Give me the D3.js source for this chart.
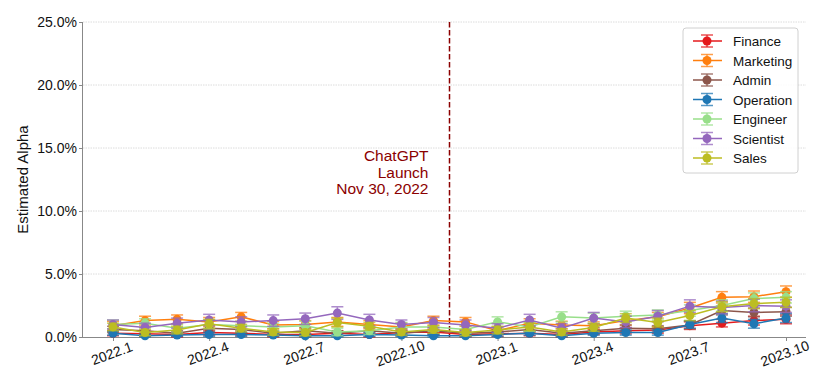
<!DOCTYPE html>
<html>
<head>
<meta charset="utf-8">
<script src="https://cdn.jsdelivr.net/npm/d3@7"></script>
<style>
  body { margin: 0; background: #fff; }
  text { font-family: "Liberation Sans", Arial, sans-serif; }
</style>
</head>
<body>
<div id="chart"></div>
<script>
// months Jan 2022 .. Oct 2023
var months = ["2022.1","2022.2","2022.3","2022.4","2022.5","2022.6","2022.7","2022.8","2022.9","2022.10","2022.11","2022.12",
              "2023.1","2023.2","2023.3","2023.4","2023.5","2023.6","2023.7","2023.8","2023.9","2023.10"];
var tickLabels = ["2022.1","2022.4","2022.7","2022.10","2023.1","2023.4","2023.7","2023.10"];
var yTicks = [0, 5, 10, 15, 20, 25];

var seriesNames = ["Finance", "Marketing", "Admin", "Operation", "Engineer", "Scientist", "Sales"];
var seriesColors = ["#e41a1c", "#ff7f0e", "#8c564b", "#1f77b4", "#98df8a", "#9467bd", "#bcbd22"];

// estimated alpha (%)
var finance   = [0.3, 0.25, 0.2, 0.35, 0.3, 0.2, 0.2, 0.3, 0.2, 0.35, 0.4, 0.2, 0.25, 0.3, 0.2, 0.4, 0.5, 0.55, 0.9, 1.1, 1.3, 1.4];
var marketing = [0.9, 1.3, 1.4, 1.2, 1.6, 0.95, 1.0, 1.2, 1.0, 0.8, 1.3, 1.2, 0.5, 1.1, 0.95, 0.9, 1.3, 1.6, 2.3, 3.15, 3.2, 3.6];
var admin     = [0.6, 0.5, 0.3, 0.7, 0.6, 0.3, 0.5, 0.3, 0.5, 0.3, 0.5, 0.3, 0.4, 0.6, 0.3, 0.5, 0.7, 0.65, 0.95, 2.1, 1.95, 2.0];
var operation = [0.3, 0.1, 0.15, 0.2, 0.2, 0.15, 0.1, 0.1, 0.2, 0.15, 0.1, 0.1, 0.2, 0.3, 0.1, 0.3, 0.35, 0.35, 1.0, 1.5, 1.05, 1.5];
var engineer  = [1.0, 1.1, 0.7, 1.0, 0.9, 0.8, 0.9, 0.4, 0.5, 0.8, 0.8, 0.6, 1.2, 0.8, 1.6, 1.5, 1.65, 1.75, 2.1, 2.5, 3.05, 3.15];
var scientist = [1.0, 0.75, 1.1, 1.35, 1.2, 1.3, 1.45, 1.9, 1.35, 1.0, 1.15, 0.95, 0.7, 1.35, 0.7, 1.5, 1.2, 1.65, 2.45, 2.35, 2.5, 2.45];
var sales     = [0.8, 0.35, 0.55, 1.05, 0.7, 0.4, 0.35, 1.15, 0.85, 0.4, 0.6, 0.35, 0.55, 0.8, 0.4, 0.75, 1.5, 1.15, 1.7, 2.4, 2.65, 2.75];

// half width of error bars (%)
var financeErr   = [0.2, 0.2, 0.2, 0.2, 0.2, 0.2, 0.2, 0.2, 0.2, 0.2, 0.2, 0.2, 0.2, 0.2, 0.2, 0.2, 0.25, 0.25, 0.3, 0.3, 0.35, 0.35];
var marketingErr = [0.35, 0.35, 0.35, 0.35, 0.35, 0.3, 0.3, 0.35, 0.3, 0.3, 0.35, 0.35, 0.3, 0.35, 0.3, 0.3, 0.35, 0.35, 0.45, 0.45, 0.45, 0.45];
var adminErr     = [0.25, 0.25, 0.2, 0.25, 0.25, 0.2, 0.25, 0.2, 0.25, 0.2, 0.25, 0.2, 0.2, 0.25, 0.2, 0.25, 0.25, 0.25, 0.3, 0.35, 0.35, 0.35];
var operationErr = [0.15, 0.1, 0.1, 0.15, 0.15, 0.1, 0.1, 0.1, 0.15, 0.1, 0.1, 0.1, 0.15, 0.15, 0.1, 0.15, 0.2, 0.2, 0.3, 0.35, 0.35, 0.35];
var engineerErr  = [0.35, 0.35, 0.3, 0.35, 0.35, 0.3, 0.35, 0.3, 0.3, 0.35, 0.35, 0.3, 0.4, 0.35, 0.4, 0.4, 0.4, 0.4, 0.45, 0.45, 0.45, 0.45];
var scientistErr = [0.35, 0.35, 0.4, 0.45, 0.4, 0.45, 0.45, 0.5, 0.45, 0.35, 0.4, 0.4, 0.35, 0.45, 0.35, 0.45, 0.45, 0.45, 0.5, 0.5, 0.5, 0.5];
var salesErr     = [0.3, 0.25, 0.3, 0.35, 0.3, 0.25, 0.25, 0.35, 0.3, 0.25, 0.3, 0.25, 0.3, 0.3, 0.25, 0.3, 0.35, 0.35, 0.4, 0.4, 0.4, 0.4];

var seriesValues = [finance, marketing, admin, operation, engineer, scientist, sales];
var seriesErrors = [financeErr, marketingErr, adminErr, operationErr, engineerErr, scientistErr, salesErr];

var launchIndex = 10.5; // Nov 30, 2022, between 2022.11 and 2022.12
var launchText = ["ChatGPT", "Launch", "Nov 30, 2022"];

var svgWidth = 830, svgHeight = 388;
var plotLeft = 83, plotRight = 806, plotTop = 22, plotBottom = 337;

var svg = d3.select("#chart").append("svg")
    .attr("width", svgWidth)
    .attr("height", svgHeight);

var xScale = d3.scaleLinear()
    .domain([0, months.length - 1])
    .range([113, 786]);

var yScale = d3.scaleLinear()
    .domain([0, 25])
    .range([plotBottom, plotTop]);

// gridlines
svg.append("g").selectAll("line")
    .data(yTicks.slice(1))
    .enter().append("line")
    .attr("x1", plotLeft).attr("x2", plotRight)
    .attr("y1", d => yScale(d)).attr("y2", d => yScale(d))
    .attr("stroke", "#dcdcdc")
    .attr("stroke-width", 1)
    .attr("stroke-dasharray", "1.5,1");

// y axis
var yAxis = d3.axisLeft(yScale)
    .tickValues(yTicks)
    .tickSize(4)
    .tickFormat(d => d.toFixed(1) + "%");
var yG = svg.append("g")
    .attr("transform", `translate(${plotLeft},0)`)
    .call(yAxis);
yG.select(".domain").attr("stroke", "#888").attr("d", `M-0.5,${plotTop}V${plotBottom}`);
yG.selectAll(".tick line").attr("stroke", "#888");
yG.selectAll("text").attr("font-size", 14).attr("fill", "#111").attr("x", -6);

// x axis
var xAxis = d3.axisBottom(xScale)
    .tickValues(tickLabels.map(t => months.indexOf(t)))
    .tickSize(4)
    .tickFormat(d => months[d]);
var xG = svg.append("g")
    .attr("transform", `translate(0,${plotBottom})`)
    .call(xAxis);
xG.select(".domain").attr("stroke", "#888").attr("d", `M${plotLeft},0.5H${plotRight}`);
xG.selectAll(".tick line").attr("stroke", "#888");
xG.selectAll("text")
    .attr("font-size", 14)
    .attr("fill", "#111")
    .attr("text-anchor", "middle")
    .attr("y", 0).attr("dy", 0)
    .attr("transform", "translate(0,21) rotate(-20)");

// y label
svg.append("text")
    .attr("transform", `translate(28,${(plotTop + plotBottom) / 2}) rotate(-90)`)
    .attr("text-anchor", "middle")
    .attr("font-size", 15)
    .attr("fill", "#111")
    .text("Estimated Alpha");

// launch line
svg.append("line")
    .attr("x1", xScale(launchIndex)).attr("x2", xScale(launchIndex))
    .attr("y1", plotTop).attr("y2", plotBottom)
    .attr("stroke", "#8b0000")
    .attr("stroke-width", 1.5)
    .attr("stroke-dasharray", "5.5,2.5");

svg.append("g").selectAll("text")
    .data(launchText)
    .enter().append("text")
    .attr("x", xScale(launchIndex) - 21)
    .attr("y", (d, i) => 161 + i * 16.5)
    .attr("text-anchor", "end")
    .attr("font-size", 15.5)
    .attr("fill", "#8b0000")
    .text(d => d);

// series
var line = d3.line()
    .x((d, i) => xScale(i))
    .y(d => yScale(d));

seriesValues.forEach(function (vals, s) {
    var color = seriesColors[s];
    var errs = seriesErrors[s];
    var g = svg.append("g");

    // error bars
    var eb = g.selectAll(".eb")
        .data(vals)
        .enter().append("g")
        .attr("opacity", 0.75);
    eb.append("line")
        .attr("x1", (d, i) => xScale(i)).attr("x2", (d, i) => xScale(i))
        .attr("y1", (d, i) => yScale(d - errs[i])).attr("y2", (d, i) => yScale(d + errs[i]))
        .attr("stroke", color).attr("stroke-width", 1.5);
    [-1, 1].forEach(function (sign) {
        eb.append("line")
            .attr("x1", (d, i) => xScale(i) - 6).attr("x2", (d, i) => xScale(i) + 6)
            .attr("y1", (d, i) => yScale(d + sign * errs[i]))
            .attr("y2", (d, i) => yScale(d + sign * errs[i]))
            .attr("stroke", color).attr("stroke-width", 1.5);
    });

    g.append("path")
        .datum(vals)
        .attr("d", line)
        .attr("fill", "none")
        .attr("stroke", color)
        .attr("stroke-width", 1.5);

    g.selectAll("circle")
        .data(vals)
        .enter().append("circle")
        .attr("cx", (d, i) => xScale(i))
        .attr("cy", d => yScale(d))
        .attr("r", 4.5)
        .attr("fill", color);
});

// legend
var legend = svg.append("g").attr("transform", "translate(683,28)");
legend.append("rect")
    .attr("width", 115).attr("height", 145)
    .attr("rx", 3)
    .attr("fill", "#fff").attr("fill-opacity", 0.85)
    .attr("stroke", "#d0d0d0");

var items = legend.selectAll(".item")
    .data(seriesNames)
    .enter().append("g")
    .attr("transform", (d, i) => `translate(0,${13 + i * 19.5})`);
items.append("line")
    .attr("x1", 10).attr("x2", 39).attr("y1", 0).attr("y2", 0)
    .attr("stroke", (d, i) => seriesColors[i]).attr("stroke-width", 1.5);
items.append("line")
    .attr("x1", 24).attr("x2", 24).attr("y1", -6).attr("y2", 6)
    .attr("stroke", (d, i) => seriesColors[i]).attr("stroke-width", 1.5).attr("opacity", 0.75);
[-6, 6].forEach(function (dy) {
    items.append("line")
        .attr("x1", 18).attr("x2", 30).attr("y1", dy).attr("y2", dy)
        .attr("stroke", (d, i) => seriesColors[i]).attr("stroke-width", 1.5).attr("opacity", 0.75);
});
items.append("circle")
    .attr("cx", 24).attr("cy", 0).attr("r", 4.5)
    .attr("fill", (d, i) => seriesColors[i]);
items.append("text")
    .attr("x", 50).attr("y", 5)
    .attr("font-size", 13.5)
    .attr("fill", "#111")
    .text(d => d);
</script>
</body>
</html>
